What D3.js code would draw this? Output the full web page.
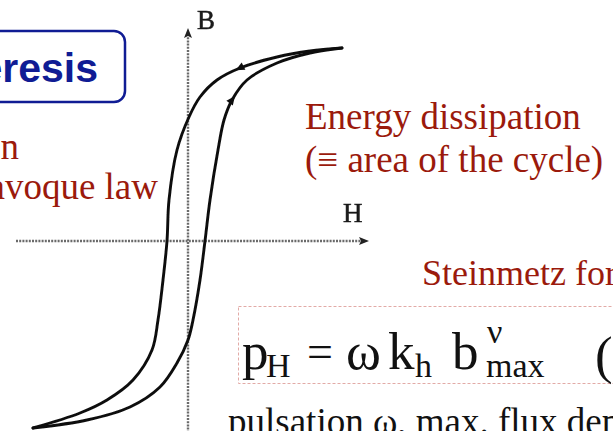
<!DOCTYPE html>
<html>
<head>
<meta charset="utf-8">
<script src="https://cdn.jsdelivr.net/npm/d3@7"></script>
<style>
  html, body { margin: 0; padding: 0; background: #fff; overflow: hidden; }
  svg { display: block; }
</style>
</head>
<body>
<svg id="chart" width="613" height="431"></svg>
<script>
// B-H hysteresis loop (normalised H and B units)
const descending = [
  [15.4, 19.3], [12.2, 19.0], [8.9, 18.4], [5.2, 17.3], [2.9, 16.1],
  [1.2, 14.4], [0.1, 12.4], [-1.1, 9.1], [-1.9, 4.1], [-2.1, 0],
  [-2.5, -3.9], [-3.0, -7.9], [-3.6, -10.9], [-5.5, -13.9], [-8.1, -15.9],
  [-10.8, -17.2], [-15.5, -18.7]
];
const ascending = [
  [-15.5, -18.7], [-10.1, -17.9], [-5.8, -16.6], [-2.8, -14.6], [-1.1, -12.2],
  [0, -9.9], [0.5, -7.9], [1.2, -3.9], [1.7, 0], [2.2, 4.1],
  [3.0, 9.1], [3.6, 12.1], [4.4, 14.1], [5.9, 16.1], [8.9, 17.8],
  [12.2, 18.8], [15.4, 19.3]
];
// arrow markers: [branch, index of point carrying the arrow]
const arrowMarks = [["descending", 3], ["ascending", 12]];
// axis extents
const hAxisExtent = [-17.2, 18.1];
const bAxisExtent = [-19.5, 21.3];
const axisLabels = { h: "H", b: "B" };

const titleText = "Hysteresis";
const leftLines = ["Description", "Lavoque law"];
const energyLines = ["Energy dissipation", "(\u2261 area of the cycle)"];
const steinmetzTitle = "Steinmetz formula";
const bottomLine = "pulsation \u03c9, max. flux density b";

const svg = d3.select("#chart");
const W = 613, H = 431;

const x = d3.scaleLinear().domain([-18.8, 42.5]).range([0, W]);
const y = d3.scaleLinear().domain([24.1, -19.0]).range([0, H]);

const RED = "#9b1a0c";
const BLUE = "#101c94";
const SERIF = "'Liberation Serif', 'DejaVu Serif', serif";

const defs = svg.append("defs");
defs.append("filter").attr("id", "soft")
  .append("feGaussianBlur").attr("stdDeviation", 0.55);

// ---- Title box (clipped on the left) ----
svg.append("rect")
  .attr("x", -20).attr("y", 31).attr("width", 145).attr("height", 71)
  .attr("rx", 11).attr("ry", 11)
  .attr("fill", "none").attr("stroke", BLUE).attr("stroke-width", 2.5);
svg.append("text")
  .attr("x", 98).attr("y", 82)
  .attr("text-anchor", "end")
  .attr("font-family", "'Liberation Sans', Arial, sans-serif")
  .attr("font-weight", "bold").attr("font-size", 41)
  .attr("fill", BLUE)
  .text(titleText);

// ---- Left explanatory text ----
const leftText = svg.append("text")
  .attr("font-family", SERIF).attr("font-size", 37).attr("fill", RED)
  .attr("text-anchor", "end");
leftText.append("tspan").attr("x", 19).attr("y", 159).text(leftLines[0]);
leftText.append("tspan").attr("x", 158).attr("y", 199).text(leftLines[1]);

// ---- Graph ----
const g = svg.append("g").attr("filter", "url(#soft)");

// axes (dotted grey)
const axisStyle = sel => sel
  .attr("stroke", "#6a6a6a").attr("stroke-width", 2.4)
  .attr("stroke-dasharray", "2,1.2").attr("fill", "none");

g.append("line")
  .attr("x1", x(hAxisExtent[0])).attr("x2", x(hAxisExtent[1]) - 4)
  .attr("y1", y(0)).attr("y2", y(0))
  .call(axisStyle);
g.append("line")
  .attr("x1", x(0)).attr("x2", x(0))
  .attr("y1", y(bAxisExtent[0])).attr("y2", y(bAxisExtent[1]) + 4)
  .call(axisStyle);

// axis arrowheads
const hx = x(hAxisExtent[1]), hy = y(0);
g.append("path")
  .attr("d", `M${hx},${hy} L${hx - 10},${hy - 4} L${hx - 8},${hy} L${hx - 10},${hy + 4} Z`)
  .attr("fill", "#222");
const bx = x(0), by = y(bAxisExtent[1]);
g.append("path")
  .attr("d", `M${bx},${by} L${bx - 4},${by + 10} L${bx},${by + 8} L${bx + 4},${by + 10} Z`)
  .attr("fill", "#222");

// loop branches
const line = d3.line()
  .x(d => x(d[0])).y(d => y(d[1]))
  .curve(d3.curveCatmullRom.alpha(0.5));

const branches = { descending, ascending };
Object.values(branches).forEach(pts => {
  g.append("path")
    .attr("d", line(pts))
    .attr("fill", "none").attr("stroke", "#111")
    .attr("stroke-width", 2.9).attr("stroke-linecap", "round");
});

// direction arrows on the loop
arrowMarks.forEach(([name, i]) => {
  const pts = branches[name];
  const p = pts[i], q = pts[i + 1];
  const px = x(p[0]), py = y(p[1]);
  const ang = Math.atan2(y(q[1]) - py, x(q[0]) - px) * 180 / Math.PI;
  g.append("path")
    .attr("d", "M5,0 L-4,-4 L-4,4 Z")
    .attr("transform", `translate(${px},${py}) rotate(${ang})`)
    .attr("fill", "#111");
});

// axis letters
const axisText = svg.append("g").attr("filter", "url(#soft)")
  .attr("font-family", SERIF).attr("fill", "#1a1a1a")
  .attr("stroke", "#1a1a1a").attr("stroke-width", 0.5);
axisText.append("text")
  .attr("x", x(0) + 9).attr("y", 29)
  .attr("font-size", 27)
  .text(axisLabels.b);
axisText.append("text")
  .attr("x", x(hAxisExtent[1]) - 26).attr("y", 222)
  .attr("font-size", 27)
  .text(axisLabels.h);

// ---- Right-hand text ----
const energy = svg.append("text")
  .attr("font-family", SERIF).attr("font-size", 37).attr("fill", RED);
energy.append("tspan").attr("x", 305).attr("y", 129).text(energyLines[0]);
energy.append("tspan").attr("x", 305).attr("y", 172).text(energyLines[1]);

svg.append("text")
  .attr("x", 422).attr("y", 285)
  .attr("font-family", SERIF).attr("font-size", 36).attr("fill", RED)
  .text(steinmetzTitle);

// formula frame
svg.append("rect")
  .attr("x", 238.5).attr("y", 306.5).attr("width", 420).attr("height", 77)
  .attr("fill", "none").attr("stroke", "#e2aaa6").attr("stroke-width", 1)
  .attr("stroke-dasharray", "3,2");

// formula  p_H = ω k_h b^ν_max   (
const F = svg.append("g").attr("font-family", SERIF).attr("fill", "#111");
const base = 369, sub = 377;
const piece = (txt, px, py, size) =>
  F.append("text").attr("x", px).attr("y", py).attr("font-size", size).text(txt);
piece("p", 242, base, 53);
piece("H", 266, sub, 34);
piece("=", 307, base - 2, 46);
piece("\u03c9", 346, base, 53);
piece("k", 388, base, 53);
piece("h", 415, sub, 34);
piece("b", 452, base, 53);
piece("\u03bd", 487, 343, 34);
piece("max", 486, sub, 34);
piece("(", 595, base + 4, 53);

svg.append("text")
  .attr("x", 228).attr("y", 434)
  .attr("font-family", SERIF).attr("font-size", 37).attr("fill", "#111")
  .text(bottomLine);
</script>
</body>
</html>
